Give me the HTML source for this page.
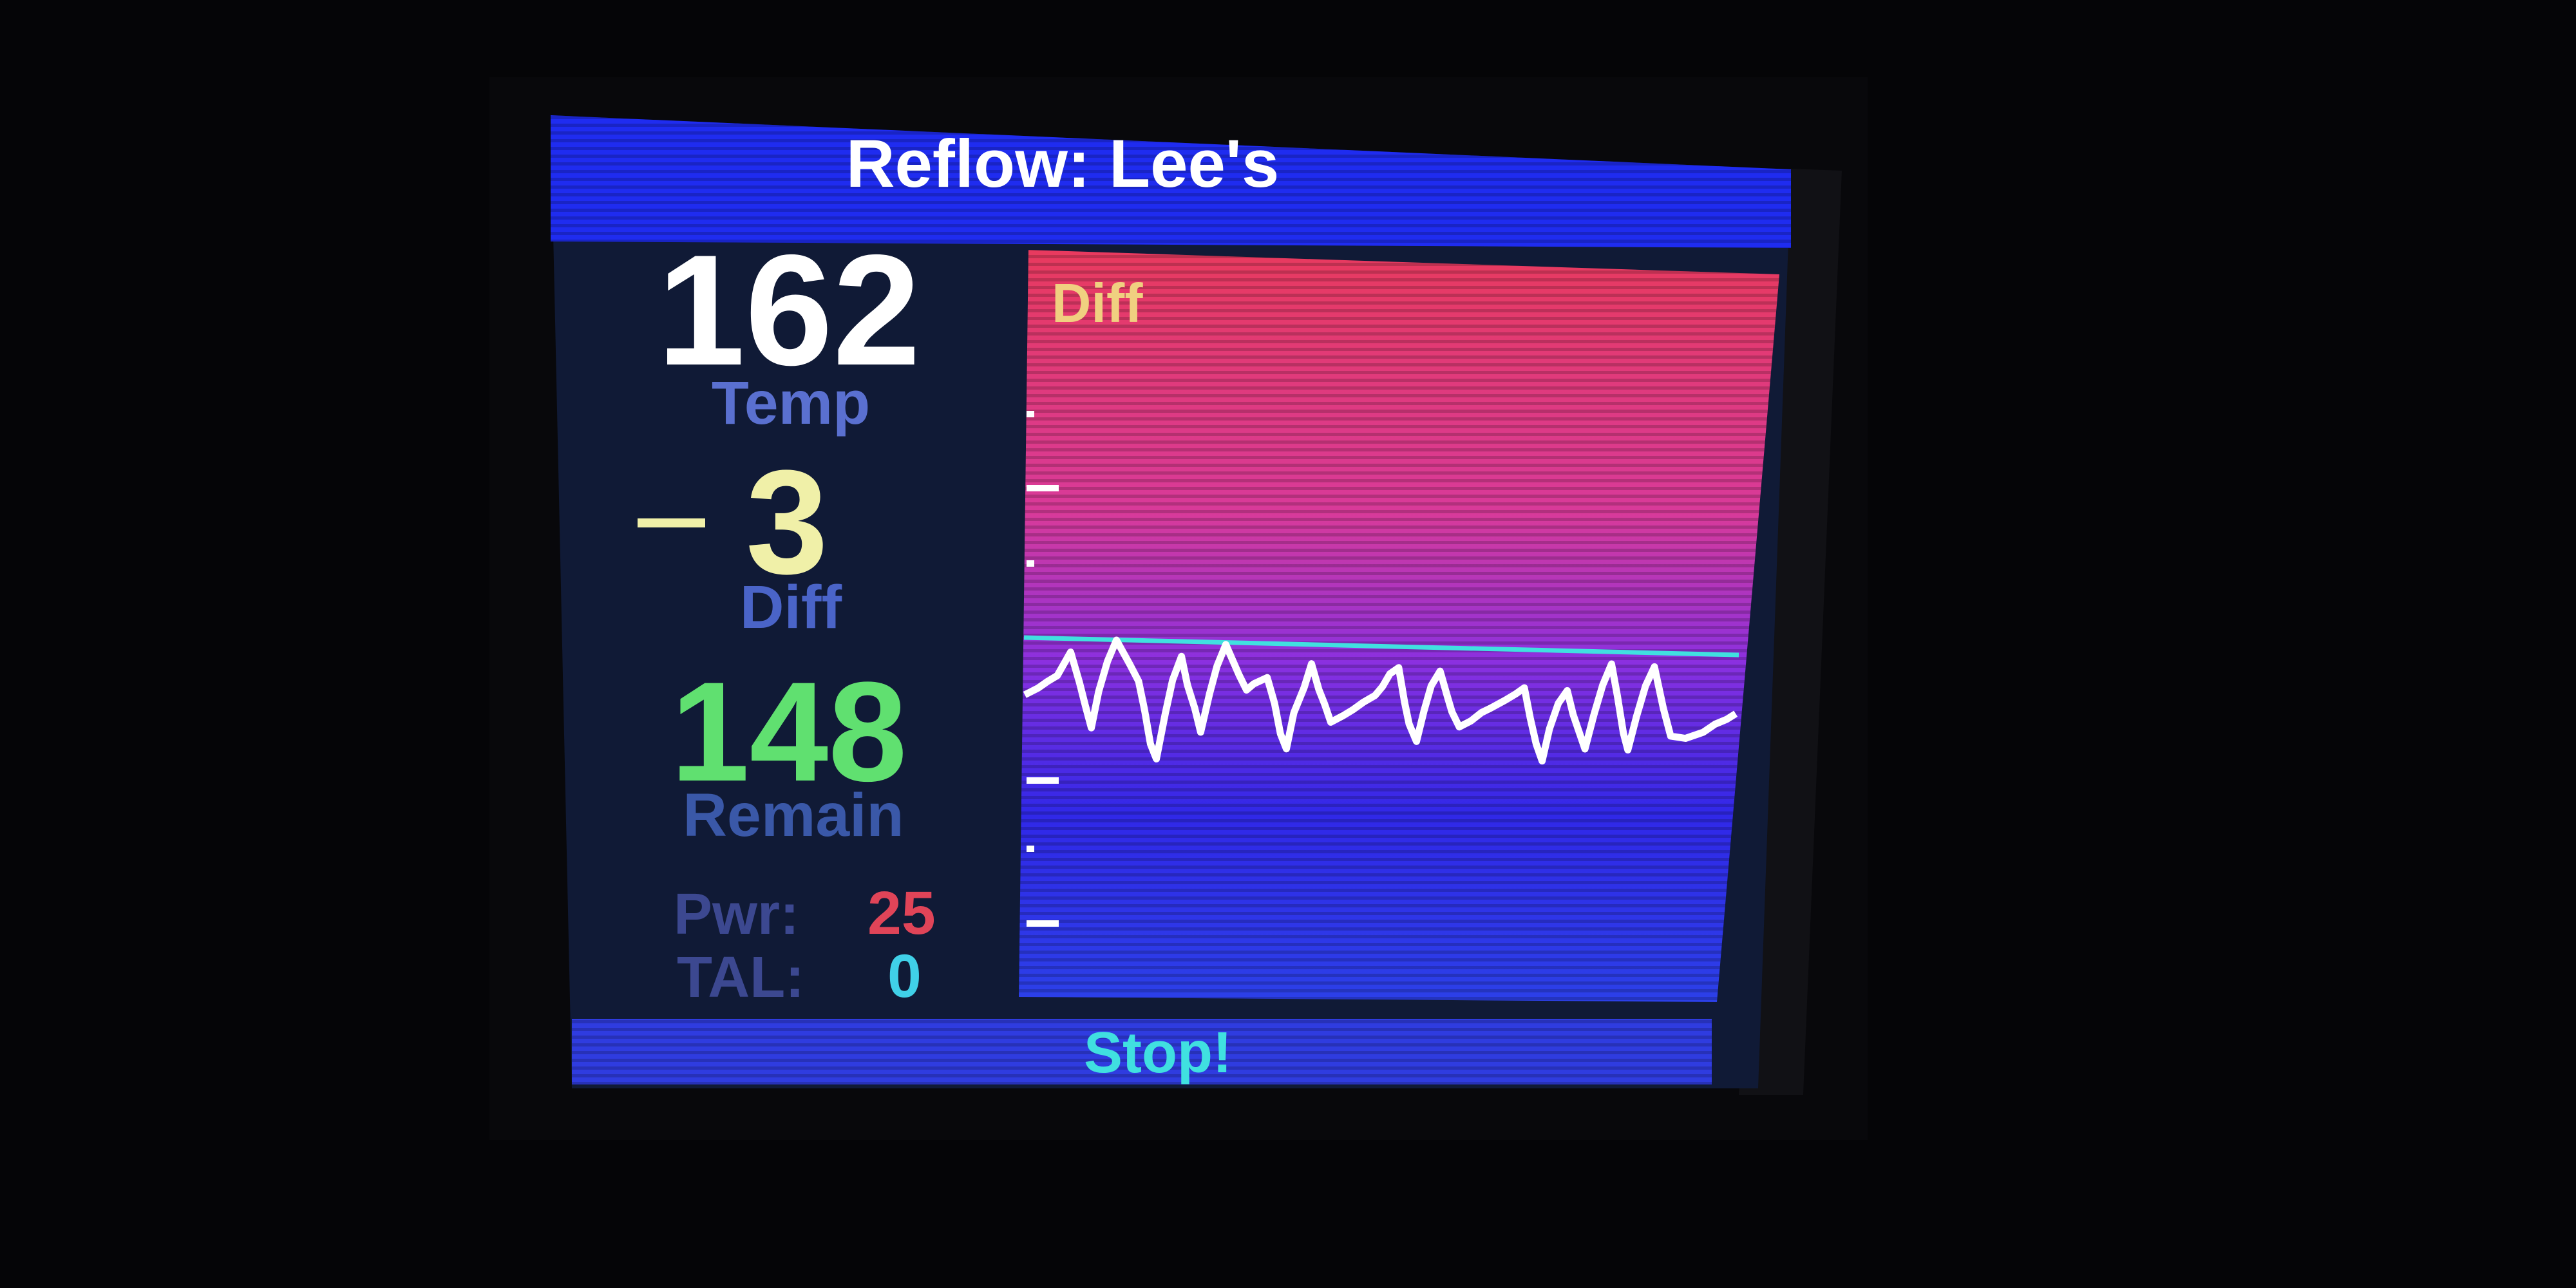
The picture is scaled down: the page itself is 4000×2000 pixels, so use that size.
<!DOCTYPE html>
<html><head><meta charset="utf-8"><style>
html,body{margin:0;padding:0;background:#050507;}
svg{display:block}
text{font-family:"Liberation Sans",sans-serif;font-weight:bold}
</style></head><body>
<svg id="s" width="4000" height="2000" viewBox="0 0 4000 2000">
<defs>
<linearGradient id="cg" x1="0" y1="0" x2="0" y2="1">
<stop offset="0" stop-color="#e83a5e"/>
<stop offset="0.35" stop-color="#d83a9a"/>
<stop offset="0.55" stop-color="#8a30e0"/>
<stop offset="0.75" stop-color="#3028e8"/>
<stop offset="1" stop-color="#2c40e8"/>
</linearGradient>
<pattern id="scan" width="20" height="12" patternUnits="userSpaceOnUse">
<rect width="20" height="5" fill="#000" opacity="0.18"/>
</pattern>
</defs>
<rect width="4000" height="2000" fill="#050507"/>
<rect x="760" y="120" width="2140" height="1650" fill="#08080b"/>
<polygon points="2780,262 2860,265 2800,1700 2700,1700" fill="#111115"/>
<polygon points="855,179 2781,263 2730,1690 888,1690" fill="#101a36"/>
<polygon points="855,179 2781,263 2781,385 855,375" fill="#1f2cf0"/>
<polygon points="855,179 2781,263 2781,385 855,375" fill="url(#scan)"/>
<text x="1650" y="290" font-size="105" fill="#ffffff" text-anchor="middle">Reflow: Lee's</text>
<polygon points="1597,388 2763,426 2666,1556 1582,1548" fill="url(#cg)"/>
<polygon points="1597,388 2763,426 2666,1556 1582,1548" fill="url(#scan)"/>
<text x="1633" y="500" font-size="85" fill="#f0d080">Diff</text>
<line x1="1590" y1="990" x2="2700" y2="1017" stroke="#40e0e0" stroke-width="7"/>
<g id="ticks"></g>
<polyline id="wave" fill="none" stroke="#ffffff" stroke-width="11" stroke-linejoin="round"/>
<text x="1225" y="566" font-size="245" fill="#ffffff" text-anchor="middle">162</text>
<text x="1228" y="658" font-size="95" fill="#5a70d0" text-anchor="middle">Temp</text>
<rect x="990" y="805" width="105" height="14" fill="#f0f0a8"/>
<text x="1222" y="890" font-size="230" fill="#f0f0a8" text-anchor="middle">3</text>
<text x="1228" y="975" font-size="95" fill="#4a64c8" text-anchor="middle">Diff</text>
<text x="1225" y="1212" font-size="220" fill="#60e070" text-anchor="middle">148</text>
<text x="1232" y="1298" font-size="95" fill="#3a58a8" text-anchor="middle">Remain</text>
<text x="1046" y="1450" font-size="90" fill="#3c4890">Pwr:</text>
<text x="1347" y="1450" font-size="95" fill="#e04458">25</text>
<text x="1051" y="1548" font-size="90" fill="#3c4890">TAL:</text>
<text x="1378" y="1548" font-size="95" fill="#40d0e8">0</text>
<polygon points="888,1582 2658,1582 2658,1684 888,1684" fill="#2f3ce0"/>
<polygon points="888,1582 2658,1582 2658,1684 888,1684" fill="url(#scan)"/>
<text x="1798" y="1665" font-size="90" fill="#40e0e0" text-anchor="middle">Stop!</text>
</svg>
<script>
const times=[18,27,33,40,49,55,59,63,68,74,80,89,95,99,103,107,113,118,124,128,133,137,143,148,154,163,168,173,182,187,191,195,200,207,212,217,221,225,233,240,247,255,260,265,271,275,278,283,288,293,299,304,307,312,320,327,333,343,350,356,360,364,368,373,379,385,389,397,403,409,415,419,423,426,432,438,444,450,455,465,477,485,493,499];
const diffs=[-8.8,-7.7,-6.7,-5.7,-2.0,-6.7,-10.3,-13.7,-8.0,-3.3,0,-3.7,-6.3,-10.7,-16,-18.3,-11.3,-6,-2.3,-6.7,-10.3,-14,-8,-3.7,-0.3,-5,-7.3,-6.3,-5.3,-9.3,-14,-16.3,-10.7,-6.7,-3,-7,-9.3,-12,-11,-10,-8.8,-7.7,-6.3,-4.3,-3.3,-8.7,-12,-14.7,-10,-6,-3.7,-7.7,-10,-12.3,-11.3,-10,-9.3,-8,-7,-6,-10.7,-14.7,-17.3,-12.3,-8.3,-6.3,-10,-15.3,-10,-5.3,-2,-7,-12.7,-15.3,-10,-5.3,-2.3,-8.7,-13,-13.3,-12.3,-11,-10.2,-9.3];
const tickYs=[643,758,875,1212,1318,1434];
const tickLong=[0,1,0,1,0,1];
function xS(t){return 1550+t*2.295;}
function yS(v,t){return 990-v*10+t*2.295*0.022;}
const pts=times.map((t,i)=>xS(t).toFixed(1)+','+yS(diffs[i],t).toFixed(1)).join(' ');
document.getElementById('wave').setAttribute('points',pts);
const g=document.getElementById('ticks');
tickYs.forEach((y,i)=>{
 const r=document.createElementNS('http://www.w3.org/2000/svg','rect');
 r.setAttribute('x',1594);r.setAttribute('y',y-5);
 r.setAttribute('width',tickLong[i]?50:12);r.setAttribute('height',10);
 r.setAttribute('fill','#ffffff');
 
 
 g.appendChild(r);
});
</script>
</body></html>
